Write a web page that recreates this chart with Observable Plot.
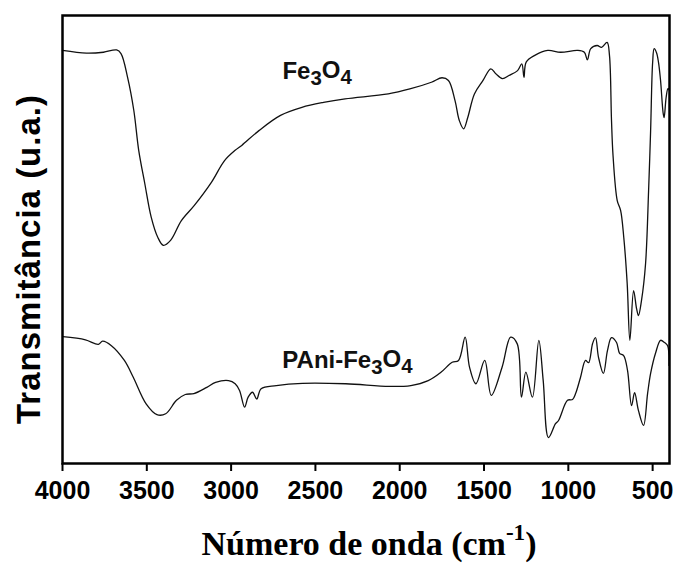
<!DOCTYPE html>
<html>
<head>
<meta charset="utf-8">
<script src="https://cdn.jsdelivr.net/npm/d3@7"></script>
<script src="https://cdn.jsdelivr.net/npm/@observablehq/plot@0.6"></script>
<style>
  html, body { margin: 0; padding: 0; background: white; }
  #wrap { position: relative; width: 675px; height: 565px; overflow: hidden; background: white; }
  #ytitle { position: absolute; left: 28px; top: 259px; transform: translate(-50%, -50%) rotate(-90deg);
    white-space: nowrap; font-family: "Liberation Sans", Arial, sans-serif; font-weight: bold; font-size: 33px; letter-spacing: 1px; line-height: 1; color: #000; }
  #xtitle { position: absolute; left: 369px; top: 527px; transform: translateX(-50%);
    white-space: nowrap; font-family: "Liberation Serif", "Times New Roman", serif; font-weight: bold; font-size: 34px; line-height: 1; color: #000; }
  #xtitle sup { font-size: 0.68em; position: relative; top: -0.12em; vertical-align: super; line-height: 0; }
</style>
</head>
<body>
<div id="wrap">
  <div id="chart"></div>
  <div id="ytitle">Transmitância (u.a.)</div>
  <div id="xtitle">Número de onda (cm<sup>-1</sup>)</div>
</div>
<script>
// Wavenumber ticks (cm-1)
const xTicks = [4000, 3500, 3000, 2500, 2000, 1500, 1000, 500];

// Fe3O4 spectrum: wavenumber (cm-1) and transmittance (arbitrary units, 0-100 of frame)
const wnFe = [4000, 3858, 3757, 3679, 3653, 3614, 3577, 3548, 3512, 3474, 3435, 3402, 3359, 3295, 3218, 3116, 3039, 2976, 2937, 2835, 2707, 2580, 2452, 2324, 2068, 1940, 1812, 1749, 1711, 1672, 1647, 1621, 1596, 1557, 1506, 1460, 1430, 1391, 1352, 1301, 1276, 1263, 1250, 1199, 1122, 1046, 944, 905, 887, 867, 829, 803, 770, 756, 744, 735, 710, 690, 671, 651, 635, 613, 595, 584, 566, 542, 524, 512, 500, 491, 477, 465, 453, 438, 432, 420, 409, 400];
const tFe = [92.2, 91.6, 91.8, 92.3, 91.5, 86.2, 78.8, 69.9, 62.5, 55.0, 50.5, 48.7, 49.8, 54.2, 57.6, 62.8, 67.6, 69.9, 71.0, 74.3, 77.7, 79.5, 80.6, 81.4, 82.5, 83.6, 85.1, 86.1, 85.5, 81.0, 76.6, 74.7, 77.3, 82.5, 85.5, 88.1, 87.0, 85.9, 86.6, 87.7, 89.2, 86.2, 89.6, 91.1, 92.2, 91.8, 92.2, 91.8, 90.1, 92.6, 93.3, 92.9, 94.0, 91.1, 76.6, 68.8, 58.7, 56.5, 50.4, 40.2, 27.5, 38.6, 34.5, 33.0, 36.4, 44.6, 60.9, 74.3, 89.5, 92.6, 91.7, 89.5, 85.5, 78.3, 77.2, 81.7, 83.7, 83.3];

// PAni-Fe3O4 spectrum
const wnPA = [3998, 3864, 3787, 3762, 3710, 3633, 3581, 3504, 3440, 3388, 3324, 3272, 3221, 3144, 3092, 3015, 2976, 2950, 2920, 2899, 2873, 2848, 2822, 2732, 2577, 2320, 2062, 1934, 1831, 1754, 1689, 1651, 1612, 1586, 1548, 1496, 1457, 1393, 1342, 1303, 1278, 1252, 1213, 1175, 1149, 1118, 1076, 1058, 1005, 975, 957, 928, 898, 880, 856, 839, 821, 792, 768, 744, 714, 696, 672, 649, 625, 607, 584, 554, 530, 512, 483, 453, 429, 411, 403];
const tPA = [28.3, 27.6, 26.6, 27.3, 26.3, 23.0, 19.3, 13.3, 10.9, 11.1, 14.1, 15.4, 15.6, 17.0, 18.1, 18.5, 17.8, 16.3, 12.6, 14.8, 15.9, 14.4, 16.7, 17.4, 17.9, 17.8, 17.2, 17.4, 18.5, 20.4, 22.6, 23.0, 28.2, 21.5, 17.8, 23.0, 15.2, 21.5, 28.2, 26.7, 14.8, 20.4, 14.8, 27.5, 18.5, 5.8, 8.9, 9.6, 14.1, 14.3, 15.6, 19.2, 23.0, 22.5, 26.8, 28.1, 23.7, 20.1, 25.2, 28.1, 27.0, 24.6, 24.1, 20.8, 12.9, 15.8, 11.8, 8.5, 15.6, 20.1, 24.6, 27.5, 27.0, 26.3, 21.9];

// Series labels
const labelNames = ["Fe3O4", "PAni-Fe3O4"];
const labelWn = [2490, 2310];
const labelT = [85.9, 21.4];

const fe = wnFe.map((w, i) => ({wn: w, t: tFe[i]}));
const pa = wnPA.map((w, i) => ({wn: w, t: tPA[i]}));
const labels = labelNames.map((n, i) => ({name: n, wn: labelWn[i], t: labelT[i]}));

const chart = Plot.plot({
  width: 675,
  height: 505,
  marginLeft: 62,
  marginRight: 6,
  marginTop: 15,
  marginBottom: 42,
  x: {domain: [4000, 400]},
  y: {domain: [0, 100], axis: null},
  style: {fontFamily: "'Liberation Sans', Arial, sans-serif", fontSize: "25px", fontWeight: "bold", background: "white", color: "black", overflow: "visible"},
  marks: [
    Plot.line(fe, {x: "wn", y: "t", stroke: "#111", strokeWidth: 1.3, curve: "catmull-rom"}),
    Plot.line(pa, {x: "wn", y: "t", stroke: "#111", strokeWidth: 1.3, curve: "catmull-rom"}),
    Plot.text(labels, {x: "wn", y: "t", text: "name", textAnchor: "middle", lineAnchor: "bottom", fontSize: 24, fontWeight: "bold", fill: "#111"}),
    Plot.frame({stroke: "black", strokeWidth: 2.5}),
    Plot.axisX({ticks: xTicks, tickSize: 8, tickPadding: 10, strokeWidth: 2, tickFormat: d => String(d), label: null})
  ]
});
document.getElementById("chart").appendChild(chart);

// Subscripts for chemical formulas
d3.select(chart).selectAll("text").each(function() {
  const s = this.textContent;
  if (s === "Fe3O4" || s === "PAni-Fe3O4") {
    const pre = s.slice(0, s.length - 5);
    this.innerHTML = "";
    const sel = d3.select(this);
    sel.append("tspan").text(pre + "Fe");
    sel.append("tspan").attr("dy", "0.3em").attr("font-size", "0.85em").text("3");
    sel.append("tspan").attr("dy", "-0.3em").text("O");
    sel.append("tspan").attr("dy", "0.3em").attr("font-size", "0.85em").text("4");
  }
});
</script>
</body>
</html>
